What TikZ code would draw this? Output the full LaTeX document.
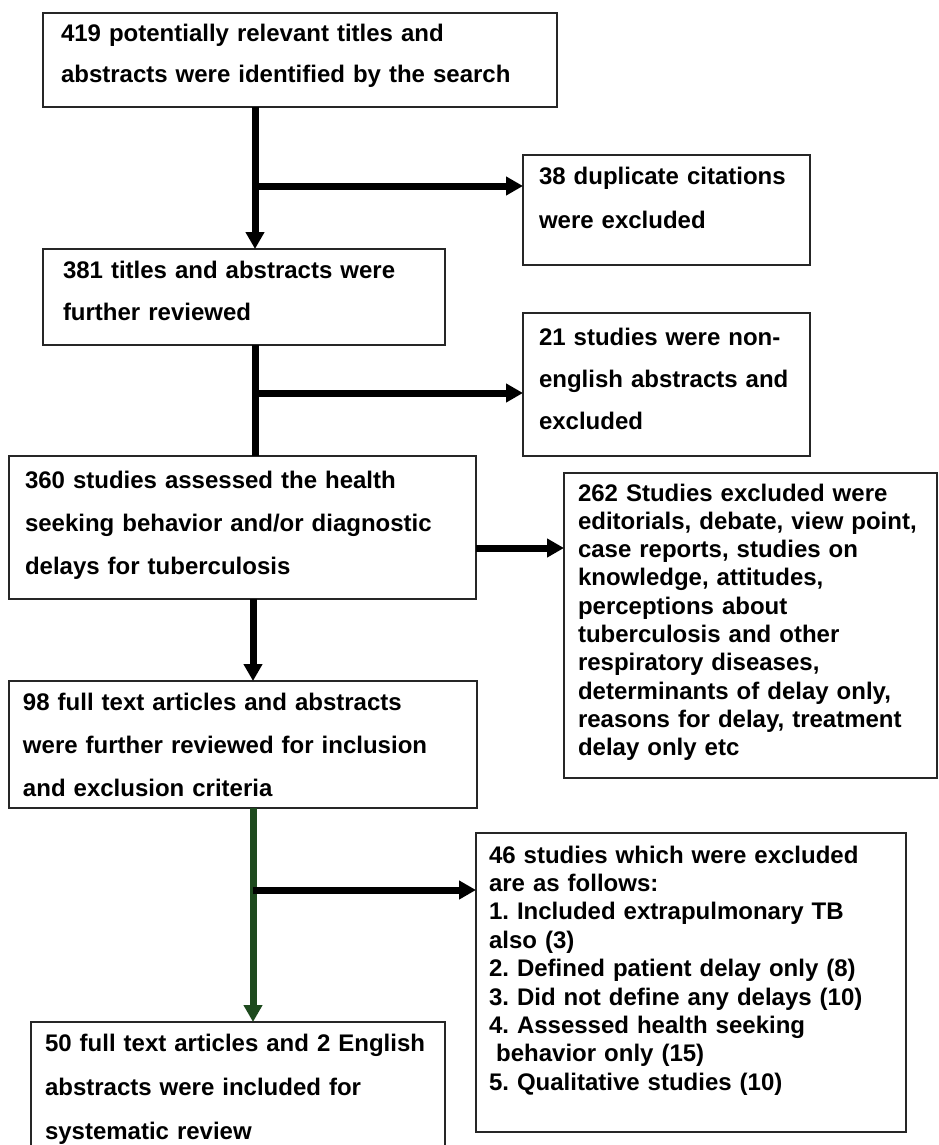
\documentclass[tikz,border=0pt]{standalone}
\usepackage{fontspec}
\setmainfont{Liberation Sans}
\usetikzlibrary{arrows.meta}
\definecolor{FGreen}{HTML}{1E4A1E}

\begin{document}
\frenchspacing
\begin{tikzpicture}[x=1pt,y=-1pt,
  box/.style={draw=black!85,line width=1.6pt,anchor=north west,outer sep=0pt,
    inner ysep=0pt,align=left},
  lead/.style={font=\fontsize{24}{#1}\selectfont\bfseries},
  a/.style={-{Triangle[length=17pt,width=18pt]},line width=7pt},
  l/.style={line width=7pt}
]
  \useasboundingbox (0,0) rectangle (938,1145);
  \node[box,lead=41pt,text width=478pt,inner xsep=18pt,text height=29pt,text depth=65pt]
    (search) at (43,13) {419 potentially relevant titles and\\abstracts were identified by the search};
  \node[box,lead=44pt,text width=255pt,inner xsep=16pt,text height=29pt,text depth=81pt]
    (dup) at (523,155) {38 duplicate citations\\were excluded};
  \node[box,lead=42pt,text width=362pt,inner xsep=20pt,text height=29pt,text depth=67pt]
    (screen) at (43,249) {381 titles and abstracts were\\further reviewed};
  \node[box,lead=42pt,text width=255pt,inner xsep=16pt,text height=32pt,text depth=111pt]
    (nonen) at (523,313) {21 studies were non-\\english abstracts and\\excluded};
  \node[box,lead=43pt,text width=435pt,inner xsep=16pt,text height=32pt,text depth=111pt]
    (assess) at (9,456) {360 studies assessed the health\\seeking behavior and/or diagnostic\\delays for tuberculosis};
  \node[box,lead=28.3pt,text width=345pt,inner xsep=14pt,text height=28pt,text depth=277pt]
    (excl) at (564,473) {262 Studies excluded were\\editorials, debate, view point,\\case reports, studies on\\knowledge, attitudes,\\perceptions about\\tuberculosis and other\\respiratory diseases,\\determinants of delay only,\\reasons for delay, treatment\\delay only etc};
  \node[box,lead=43pt,text width=440pt,inner xsep=14pt,text height=29pt,text depth=98pt]
    (fulltext) at (9,681) {98 full text articles and abstracts\\were further reviewed for inclusion\\and exclusion criteria};
  \node[box,lead=28.4pt,text width=404pt,inner xsep=13pt,text height=30pt,text depth=269pt]
    (reasons) at (476,833) {46 studies which were excluded\\are as follows:\\1. Included extrapulmonary TB\\also (3)\\2. Defined patient delay only (8)\\3. Did not define any delays (10)\\4. Assessed health seeking\\\hspace*{0.3em}behavior only (15)\\5. Qualitative studies (10)};
  \node[box,lead=44pt,text width=386pt,inner xsep=14pt,text height=29pt,text depth=121pt]
    (incl) at (31,1022) {50 full text articles and 2 English\\abstracts were included for\\systematic review};
  % connectors
  \coordinate (s1) at (255,186);
  \coordinate (s2) at (255,393);
  \coordinate (s3) at (476,548);
  \coordinate (s4) at (253,640);
  \coordinate (s5) at (253,890);
  \draw[a] (search.south -| s1) -- (screen.north -| s1);
  \draw[a] (s1) -- (dup.west |- s1);
  \draw[l] (screen.south -| s2) -- (assess.north -| s2);
  \draw[a] (s2) -- (nonen.west |- s2);
  \draw[a] (assess.east |- s3) -- (excl.west |- s3);
  \draw[a] (assess.south -| s4) -- (fulltext.north -| s4);
  \draw[a,color=FGreen] (fulltext.south -| s5) -- (incl.north -| s5);
  \draw[a] (s5) -- (reasons.west |- s5);
\end{tikzpicture}
\end{document}
